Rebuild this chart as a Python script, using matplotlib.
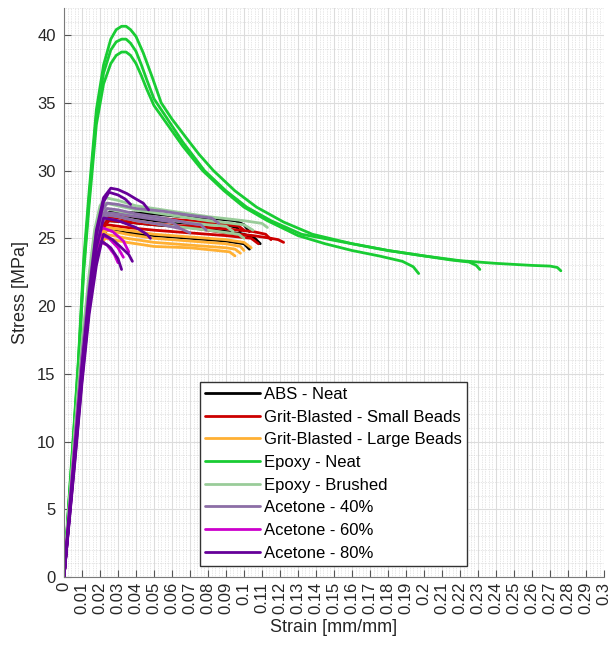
import matplotlib
matplotlib.use("Agg")
import matplotlib.pyplot as plt
from matplotlib.ticker import MultipleLocator, FuncFormatter

plt.rcParams['font.family'] = ['Liberation Sans', 'DejaVu Sans']

# ---- data (strain [mm/mm], stress [MPa]) ----
abs_neat = [
    ([0, 0.003, 0.006, 0.010, 0.014, 0.018, 0.022, 0.026, 0.035, 0.050, 0.065, 0.080, 0.095, 0.100, 0.103],
     [0, 5.2, 10.3, 16.8, 21.6, 25.2, 26.6, 27.0, 26.9, 26.8, 26.6, 26.5, 26.3, 26.0, 25.5]),
    ([0, 0.003, 0.006, 0.010, 0.014, 0.018, 0.022, 0.025, 0.035, 0.050, 0.070, 0.090, 0.100, 0.106, 0.109],
     [0, 5.0, 10.0, 16.3, 21.0, 24.6, 25.9, 26.3, 26.2, 26.0, 25.8, 25.5, 25.3, 25.0, 24.6]),
    ([0, 0.003, 0.006, 0.010, 0.014, 0.018, 0.021, 0.024, 0.035, 0.050, 0.070, 0.090, 0.100, 0.103],
     [0, 5.0, 9.9, 16.1, 20.6, 23.9, 25.2, 25.6, 25.4, 25.2, 25.0, 24.8, 24.6, 24.2]),
    ([0, 0.003, 0.006, 0.010, 0.014, 0.018, 0.022, 0.025, 0.035, 0.050, 0.070, 0.090, 0.096, 0.098],
     [0, 5.1, 10.1, 16.5, 21.3, 24.9, 26.2, 26.6, 26.5, 26.3, 26.1, 26.0, 25.8, 25.5]),
]

grit_small = [
    ([0, 0.003, 0.006, 0.010, 0.014, 0.018, 0.022, 0.025, 0.035, 0.050, 0.070, 0.090, 0.105, 0.115, 0.119, 0.122],
     [0, 5.1, 10.1, 16.4, 21.2, 24.8, 26.2, 26.6, 26.4, 26.1, 25.8, 25.4, 25.2, 25.0, 24.9, 24.7]),
    ([0, 0.003, 0.006, 0.010, 0.014, 0.018, 0.022, 0.025, 0.035, 0.050, 0.070, 0.090, 0.097, 0.100],
     [0, 5.2, 10.2, 16.6, 21.4, 25.0, 26.4, 26.8, 26.7, 26.5, 26.3, 26.0, 25.9, 25.6]),
    ([0, 0.003, 0.006, 0.010, 0.014, 0.018, 0.022, 0.025, 0.035, 0.050, 0.070, 0.090, 0.105, 0.112, 0.115],
     [0, 5.0, 10.0, 16.3, 21.0, 24.6, 25.9, 26.3, 26.2, 26.0, 25.9, 25.7, 25.5, 25.3, 24.9]),
    ([0, 0.003, 0.006, 0.010, 0.014, 0.018, 0.022, 0.024, 0.035, 0.050, 0.070, 0.090, 0.104, 0.108],
     [0, 5.0, 9.9, 16.2, 20.8, 24.3, 25.7, 26.0, 25.8, 25.6, 25.4, 25.2, 25.0, 24.6]),
]

grit_large = [
    ([0, 0.003, 0.006, 0.010, 0.014, 0.018, 0.021, 0.024, 0.035, 0.050, 0.070, 0.090, 0.098, 0.100],
     [0, 5.0, 9.8, 16.0, 20.5, 23.9, 25.2, 25.6, 25.3, 25.0, 24.8, 24.6, 24.4, 24.1]),
    ([0, 0.003, 0.006, 0.010, 0.014, 0.018, 0.021, 0.023, 0.035, 0.050, 0.070, 0.090, 0.095, 0.098],
     [0, 4.9, 9.7, 15.8, 20.3, 23.6, 24.9, 25.3, 25.0, 24.7, 24.5, 24.3, 24.2, 23.9]),
    ([0, 0.003, 0.006, 0.010, 0.014, 0.018, 0.021, 0.024, 0.035, 0.050, 0.070, 0.090, 0.100, 0.104],
     [0, 5.0, 9.9, 16.1, 20.7, 24.1, 25.4, 25.8, 25.6, 25.3, 25.1, 24.9, 24.7, 24.3]),
    ([0, 0.003, 0.006, 0.010, 0.014, 0.018, 0.020, 0.023, 0.035, 0.050, 0.070, 0.085, 0.092, 0.095],
     [0, 4.9, 9.6, 15.6, 20.1, 23.4, 24.5, 25.0, 24.7, 24.4, 24.3, 24.1, 24.0, 23.7]),
]

epoxy_neat = [
    ([0, 0.0025, 0.005, 0.008, 0.011, 0.014, 0.018, 0.022, 0.026, 0.029, 0.032, 0.0345, 0.037, 0.040, 0.044,
      0.049, 0.054, 0.060, 0.068, 0.075, 0.083, 0.095, 0.107, 0.122, 0.138, 0.160, 0.180, 0.200, 0.220, 0.240,
      0.260, 0.270, 0.274, 0.276],
     [0, 5.2, 10.0, 16.0, 23.5, 28.5, 34.5, 37.8, 39.7, 40.4, 40.65, 40.65, 40.4, 39.9, 38.7,
      36.9, 35.0, 33.8, 32.4, 31.2, 30.0, 28.5, 27.3, 26.2, 25.3, 24.6, 24.1, 23.7, 23.35, 23.15,
      23.0, 22.95, 22.85, 22.6]),
    ([0, 0.0025, 0.005, 0.008, 0.011, 0.014, 0.018, 0.022, 0.026, 0.029, 0.032, 0.0345, 0.037, 0.040, 0.043,
      0.046, 0.050, 0.058, 0.066, 0.078, 0.090, 0.1015, 0.115, 0.132, 0.160, 0.180, 0.200, 0.215, 0.225,
      0.229, 0.231],
     [0, 5.0, 9.8, 15.8, 23.0, 28.0, 34.0, 37.2, 38.9, 39.5, 39.7, 39.7, 39.4, 38.8, 37.8,
      36.7, 35.3, 33.7, 32.1, 30.0, 28.5, 27.3, 26.3, 25.3, 24.6, 24.1, 23.7, 23.4, 23.25,
      23.0, 22.7]),
    ([0, 0.0025, 0.005, 0.008, 0.011, 0.014, 0.018, 0.022, 0.026, 0.029, 0.032, 0.0345, 0.037, 0.040, 0.043,
      0.046, 0.050, 0.058, 0.066, 0.077, 0.089, 0.100, 0.113, 0.130, 0.145, 0.160, 0.175, 0.188, 0.194,
      0.197],
     [0, 4.9, 9.6, 15.5, 22.6, 27.5, 33.4, 36.4, 37.9, 38.5, 38.75, 38.75, 38.5, 37.9, 37.0,
      36.0, 34.8, 33.3, 31.8, 30.0, 28.5, 27.3, 26.3, 25.2, 24.6, 24.1, 23.7, 23.3, 22.9,
      22.4]),
]

epoxy_brushed = [
    ([0, 0.003, 0.006, 0.010, 0.014, 0.017, 0.020, 0.023, 0.030, 0.040, 0.060, 0.080, 0.100, 0.110, 0.113],
     [0, 5.4, 10.6, 17.2, 22.4, 25.6, 27.4, 28.0, 27.8, 27.4, 27.0, 26.6, 26.3, 26.1, 25.8]),
    ([0, 0.003, 0.006, 0.010, 0.014, 0.017, 0.020, 0.023, 0.030, 0.040, 0.060, 0.080, 0.100, 0.105],
     [0, 5.3, 10.5, 17.0, 22.1, 25.3, 27.0, 27.6, 27.4, 27.1, 26.7, 26.3, 26.0, 25.6]),
    ([0, 0.003, 0.006, 0.010, 0.014, 0.017, 0.020, 0.023, 0.030, 0.040, 0.060, 0.080, 0.097, 0.100],
     [0, 5.1, 10.2, 16.6, 21.5, 24.6, 26.2, 26.8, 26.6, 26.3, 25.9, 25.6, 25.3, 25.0]),
    ([0, 0.003, 0.006, 0.010, 0.014, 0.017, 0.020, 0.023, 0.030, 0.040, 0.060, 0.080, 0.090, 0.094],
     [0, 5.2, 10.4, 16.8, 21.8, 24.9, 26.6, 27.2, 27.0, 26.7, 26.3, 26.0, 25.9, 25.5]),
]

acetone_40 = [
    ([0, 0.003, 0.006, 0.010, 0.014, 0.018, 0.021, 0.024, 0.030, 0.040, 0.055, 0.070, 0.082, 0.086],
     [0, 5.0, 10.0, 16.4, 21.5, 25.5, 27.0, 27.6, 27.5, 27.2, 27.0, 26.7, 26.5, 26.1]),
    ([0, 0.003, 0.006, 0.010, 0.014, 0.018, 0.021, 0.024, 0.030, 0.040, 0.055, 0.070, 0.076, 0.079],
     [0, 4.9, 9.8, 16.1, 21.1, 25.0, 26.6, 27.2, 27.1, 26.8, 26.5, 26.1, 26.0, 25.6]),
    ([0, 0.003, 0.006, 0.010, 0.014, 0.018, 0.021, 0.024, 0.030, 0.040, 0.055, 0.065, 0.070],
     [0, 4.8, 9.6, 15.8, 20.7, 24.5, 26.1, 26.7, 26.6, 26.3, 26.0, 25.7, 25.4]),
    ([0, 0.003, 0.006, 0.010, 0.014, 0.018, 0.020, 0.023, 0.030, 0.040, 0.050, 0.060, 0.064],
     [0, 4.9, 9.7, 16.0, 20.9, 24.7, 26.0, 26.9, 26.8, 26.6, 26.4, 26.2, 25.8]),
]

acetone_60 = [
    ([0, 0.003, 0.006, 0.010, 0.014, 0.017, 0.020, 0.025, 0.030, 0.033],
     [0, 4.6, 9.2, 15.3, 20.3, 23.6, 25.3, 25.0, 24.3, 23.6]),
    ([0, 0.003, 0.006, 0.010, 0.014, 0.017, 0.019, 0.024, 0.028, 0.030],
     [0, 4.5, 9.0, 15.0, 19.9, 23.2, 24.8, 24.5, 23.8, 23.2]),
    ([0, 0.003, 0.006, 0.010, 0.014, 0.017, 0.021, 0.027, 0.033, 0.036],
     [0, 4.7, 9.4, 15.6, 20.6, 23.9, 25.8, 25.5, 24.8, 24.0]),
]

acetone_80 = [
    ([0, 0.003, 0.006, 0.010, 0.014, 0.018, 0.022, 0.026, 0.030, 0.035, 0.040, 0.044, 0.047],
     [0, 4.6, 9.3, 15.6, 21.0, 25.6, 28.0, 28.7, 28.6, 28.3, 27.9, 27.6, 27.1]),
    ([0, 0.003, 0.006, 0.010, 0.014, 0.018, 0.022, 0.025, 0.030, 0.034, 0.037],
     [0, 4.5, 9.1, 15.3, 20.7, 25.2, 27.7, 28.4, 28.2, 27.9, 27.5]),
    ([0, 0.003, 0.006, 0.010, 0.014, 0.018, 0.022, 0.027, 0.032, 0.036, 0.038],
     [0, 4.3, 8.6, 14.6, 19.8, 23.5, 25.3, 24.9, 24.3, 23.8, 23.3]),
    ([0, 0.003, 0.006, 0.010, 0.014, 0.018, 0.021, 0.026, 0.030, 0.032],
     [0, 4.2, 8.4, 14.3, 19.4, 23.0, 24.8, 24.3, 23.5, 22.7]),
    ([0, 0.003, 0.006, 0.010, 0.014, 0.018, 0.022, 0.030, 0.040, 0.046, 0.048],
     [0, 4.4, 8.8, 14.9, 20.2, 24.3, 26.5, 26.3, 25.8, 25.3, 25.0]),
]

labels = ["ABS - Neat", "Grit-Blasted - Small Beads", "Grit-Blasted - Large Beads",
          "Epoxy - Neat", "Epoxy - Brushed", "Acetone - 40%", "Acetone - 60%", "Acetone - 80%"]
colors = ["#000000", "#CC0000", "#FFB033", "#19CC33", "#99CC99", "#8C6EA6", "#CC00CC", "#660099"]
groups = [abs_neat, grit_small, grit_large, epoxy_neat, epoxy_brushed, acetone_40, acetone_60, acetone_80]

fig = plt.figure(figsize=(6.11, 6.45), dpi=100)
ax = fig.add_axes([0.1047, 0.1054, 0.884, 0.8822])

handles = []
for curves, col, lab in zip(groups, colors, labels):
    for i, (x, y) in enumerate(curves):
        ln, = ax.plot(x, y, color=col, lw=2.0, solid_joinstyle='round', solid_capstyle='round')
        if i == 0:
            ln.set_label(lab)
            handles.append(ln)

ax.set_xlim(0, 0.3)
ax.set_ylim(0, 42)
ax.xaxis.set_major_locator(MultipleLocator(0.01))
ax.xaxis.set_minor_locator(MultipleLocator(0.002))
ax.yaxis.set_major_locator(MultipleLocator(5))
ax.yaxis.set_minor_locator(MultipleLocator(1))
ax.xaxis.set_major_formatter(FuncFormatter(lambda v, p: f"{round(v, 3):g}"))

ax.grid(True, which='major', color='#dcdcdc', lw=0.8)
ax.grid(True, which='minor', color='#cfcfcf', lw=0.5, ls=(0, (1, 1.5)))
ax.set_axisbelow(True)

for side in ['top', 'right']:
    ax.spines[side].set_visible(False)
for side in ['left', 'bottom']:
    ax.spines[side].set_color('#7a7a7a')
ax.tick_params(which='major', direction='in', length=5, color='#555555',
               labelsize=12, labelcolor='#262626')
ax.tick_params(axis='y', pad=6)
ax.tick_params(which='minor', length=0)
plt.setp(ax.get_xticklabels(), rotation=90)

ax.set_xlabel("Strain [mm/mm]", fontsize=13, color='#262626', labelpad=3)
ax.set_ylabel("Stress [MPa]", fontsize=13, color='#262626', labelpad=6)

leg = ax.legend(handles=handles, loc='upper left', bbox_to_anchor=(0.252, 0.343),
                fontsize=12, handlelength=3.3, labelspacing=0.46, handletextpad=0.25,
                borderpad=0.3, borderaxespad=0, fancybox=False, framealpha=1,
                edgecolor='#333333')
for h in leg.get_lines():
    h.set_linewidth(2)

fig.savefig("out.png", dpi=100)
